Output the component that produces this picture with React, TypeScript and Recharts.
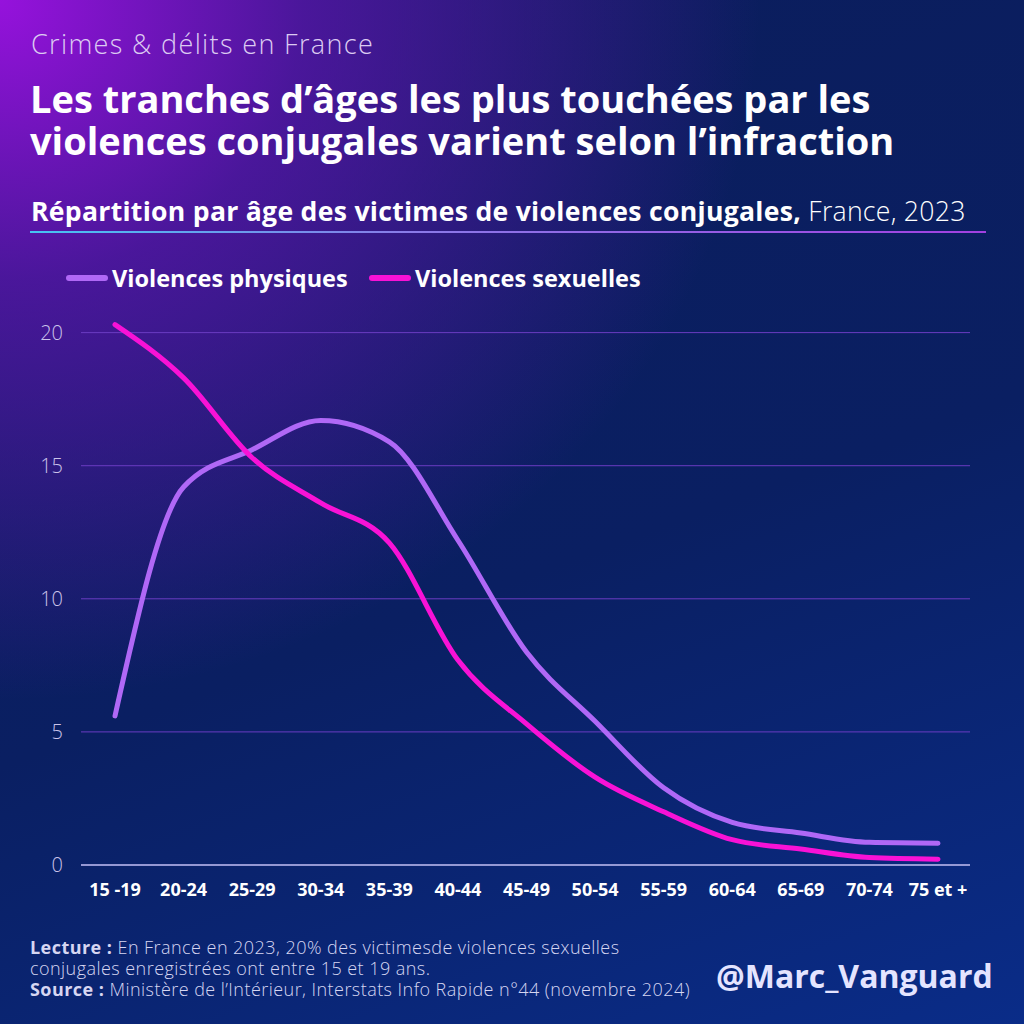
import React from 'react';
import { LineChart, Line, XAxis, YAxis, CartesianGrid } from 'recharts';

const categories = ['15 -19', '20-24', '25-29', '30-34', '35-39', '40-44', '45-49', '50-54', '55-59', '60-64', '65-69', '70-74', '75 et +'];
const physiques = [5.6, 14.2, 15.6, 16.7, 15.9, 12.2, 8.0, 5.4, 2.9, 1.6, 1.2, 0.85, 0.82];
const sexuelles = [20.3, 18.3, 15.3, 13.6, 12.1, 7.7, 5.3, 3.3, 2.0, 0.95, 0.6, 0.28, 0.22];
const yTicks = [0, 5, 10, 15, 20];

const series = [
  { key: 'physiques', name: 'Violences physiques', color: '#b068f6' },
  { key: 'sexuelles', name: 'Violences sexuelles', color: '#f812d6' },
];

const titleLines = ['Les tranches d’âges les plus touchées par les', 'violences conjugales varient selon l’infraction'];

const data = categories.map((c, i) => ({ cat: c, physiques: physiques[i], sexuelles: sexuelles[i] }));

const FONT = '"Open Sans", Lato, sans-serif';

export default function App() {
  return (
    <div
      style={{
        position: 'absolute',
        left: 0,
        top: 0,
        width: 1024,
        height: 1024,
        overflow: 'hidden',
        fontFamily: FONT,
        background:
          'radial-gradient(ellipse 760px 700px at 0% 0%, rgba(150,18,220,1) 0%, rgba(95,20,175,0.75) 40%, rgba(40,25,130,0) 100%), linear-gradient(160deg, #0b1d5c 0%, #0a1f62 55%, #0a2c88 100%)',
      }}
    >
      <div style={{ position: 'absolute', left: 31, top: 27, fontSize: 27, letterSpacing: 1.35, lineHeight: '34px', fontWeight: 300, color: '#dccbf2', whiteSpace: 'nowrap' }}>
        Crimes &amp; délits en France
      </div>
      {titleLines.map((t, i) => (
        <div
          key={i}
          style={{ position: 'absolute', left: 30, top: 78 + i * 42, fontSize: 38, fontWeight: 700, color: '#ffffff', lineHeight: '40px', whiteSpace: 'nowrap' }}
        >
          {t}
        </div>
      ))}
      <div style={{ position: 'absolute', left: 31, top: 195, fontSize: 26.6, lineHeight: '32px', letterSpacing: 0.28, color: '#ffffff', whiteSpace: 'nowrap' }}>
        <span style={{ fontWeight: 700 }}>Répartition par âge des victimes de violences conjugales,</span>
        <span style={{ fontWeight: 300 }}> France, 2023</span>
      </div>
      <div
        style={{
          position: 'absolute',
          left: 30,
          top: 231,
          width: 956,
          height: 2,
          background: 'linear-gradient(90deg, #46c4f2 0%, #8a7ae8 40%, #a240e0 100%)',
        }}
      />
      {series.map((s, i) => (
        <div
          key={s.key}
          style={{
            position: 'absolute',
            left: i === 0 ? 66 : 369,
            top: 262,
            height: 32,
            display: 'flex',
            alignItems: 'center',
            whiteSpace: 'nowrap',
          }}
        >
          <div style={{ width: 42, height: 6, borderRadius: 3, background: s.color, marginRight: 4 }} />
          <span style={{ fontSize: 23.5, lineHeight: '32px', fontWeight: 700, color: '#ffffff' }}>{s.name}</span>
        </div>
      ))}

      <div style={{ position: 'absolute', left: 0, top: 0 }}>
        <LineChart width={1024} height={1024} data={data} margin={{ top: 306, right: 54, left: 21, bottom: 129 }}>
          <CartesianGrid vertical={false} stroke="#6a3cc2" strokeWidth={1} horizontalValues={yTicks} />
          <XAxis
            dataKey="cat"
            padding={{ left: 34, right: 32 }}
            axisLine={{ stroke: '#b4bce8', strokeWidth: 1.5 }}
            tickLine={false}
            tickSize={0}
            tickMargin={18}
            height={30}
            interval={0}
            tick={{ fill: '#ffffff', fontSize: 18, fontWeight: 700, fontFamily: FONT }}
          />
          <YAxis
            domain={[0, 21]}
            ticks={yTicks}
            width={60}
            axisLine={false}
            tickLine={false}
            tickSize={0}
            tickMargin={18}
            tick={{ fill: '#cbc3ea', fontSize: 20, fontWeight: 300, fontFamily: FONT }}
          />
          {series.map((s) => (
            <Line
              key={s.key}
              type="monotone"
              dataKey={s.key}
              name={s.name}
              stroke={s.color}
              strokeWidth={5}
              strokeLinecap="round"
              dot={false}
              activeDot={false}
              isAnimationActive={false}
            />
          ))}
        </LineChart>
      </div>

      <div style={{ position: 'absolute', left: 30, top: 937, fontSize: 18, letterSpacing: 0.45, fontWeight: 300, color: '#d6d6f2', lineHeight: '21px', whiteSpace: 'nowrap' }}>
        <span style={{ fontWeight: 700 }}>Lecture :</span> En France en 2023, 20% des victimesde violences sexuelles
        <br />
        conjugales enregistrées ont entre 15 et 19 ans.
        <br />
        <span style={{ fontWeight: 700 }}>Source :</span> Ministère de l’Intérieur, Interstats Info Rapide n°44 (novembre 2024)
      </div>
      <div style={{ position: 'absolute', left: 716, top: 954, fontSize: 32, lineHeight: '44px', fontWeight: 700, color: '#e4e4ff', whiteSpace: 'nowrap' }}>
        @Marc_Vanguard
      </div>
    </div>
  );
}
